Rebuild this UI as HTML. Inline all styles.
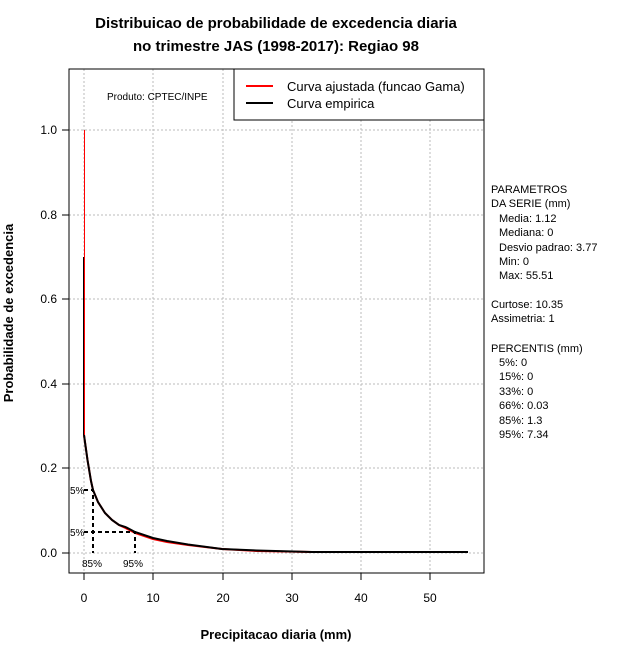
<!DOCTYPE html><html><head><style>body{margin:0;background:#fff}svg text{font-family:"Liberation Sans",sans-serif}</style></head><body>
<svg width="640" height="660" xmlns="http://www.w3.org/2000/svg">
<text x="276" y="28" font-size="15" font-weight="bold" text-anchor="middle">Distribuicao de probabilidade de excedencia diaria</text>
<text x="276" y="51" font-size="15" font-weight="bold" text-anchor="middle">no trimestre JAS (1998-2017): Regiao 98</text>
<g stroke="#bbb" stroke-dasharray="2,2" stroke-width="1">
<line x1="84" y1="69" x2="84" y2="573"/><line x1="153" y1="69" x2="153" y2="573"/><line x1="223" y1="69" x2="223" y2="573"/><line x1="292" y1="69" x2="292" y2="573"/><line x1="361" y1="120" x2="361" y2="573"/><line x1="430" y1="120" x2="430" y2="573"/>
<line x1="69" y1="130" x2="484" y2="130"/><line x1="69" y1="215" x2="484" y2="215"/><line x1="69" y1="299" x2="484" y2="299"/><line x1="69" y1="384" x2="484" y2="384"/><line x1="69" y1="468" x2="484" y2="468"/><line x1="69" y1="553" x2="484" y2="553"/>
</g>
<rect x="69" y="69" width="415" height="504" fill="none" stroke="#000"/>
<g stroke="#000"><line x1="69" y1="130" x2="69" y2="553"/>
<line x1="62" y1="130" x2="69" y2="130"/><line x1="62" y1="215" x2="69" y2="215"/><line x1="62" y1="299" x2="69" y2="299"/><line x1="62" y1="384" x2="69" y2="384"/><line x1="62" y1="468" x2="69" y2="468"/><line x1="62" y1="553" x2="69" y2="553"/>
<line x1="84" y1="573" x2="84" y2="580"/><line x1="153" y1="573" x2="153" y2="580"/><line x1="223" y1="573" x2="223" y2="580"/><line x1="292" y1="573" x2="292" y2="580"/><line x1="361" y1="573" x2="361" y2="580"/><line x1="430" y1="573" x2="430" y2="580"/></g>
<g font-size="12" text-anchor="end"><text x="57" y="134">1.0</text><text x="57" y="219">0.8</text><text x="57" y="303">0.6</text><text x="57" y="388">0.4</text><text x="57" y="472">0.2</text><text x="57" y="557">0.0</text></g>
<g font-size="12" text-anchor="middle"><text x="84" y="602">0</text><text x="153" y="602">10</text><text x="223" y="602">20</text><text x="292" y="602">30</text><text x="361" y="602">40</text><text x="430" y="602">50</text></g>
<text x="276" y="639" font-size="13" font-weight="bold" text-anchor="middle">Precipitacao diaria (mm)</text>
<text transform="translate(13,313) rotate(-90)" font-size="13" font-weight="bold" text-anchor="middle">Probabilidade de excedencia</text>
<text x="107" y="100" font-size="10">Produto: CPTEC/INPE</text>
<rect x="234" y="69" width="250" height="51" fill="#fff" stroke="#000"/>
<line x1="246" y1="86" x2="273" y2="86" stroke="red" stroke-width="2"/><line x1="246" y1="103" x2="273" y2="103" stroke="#000" stroke-width="2"/>
<text x="287" y="91" font-size="13">Curva ajustada (funcao Gama)</text><text x="287" y="108" font-size="13">Curva empirica</text>
<line x1="84.5" y1="130" x2="84.5" y2="435" stroke="red" stroke-width="1"/>
<line x1="83.5" y1="257" x2="83.5" y2="435" stroke="#000" stroke-width="1"/>
<polyline fill="none" stroke="red" stroke-width="2" points="84,435 87.5,460 91,481 93,490 98,502 105,513 112,520 119,525 125.5,528 135,533 153,539 167,542 188,545 222,549 257,551 312,552"/>
<polyline fill="none" stroke="#000" stroke-width="2" points="84,435 87.5,460 91,481 93,490 98,502 105,513 112,520 119,525 125.5,527 135,532 153,538 167,541 188,544.5 222,549 257,550.5 312,552 468,552"/>
<g stroke="#000" stroke-width="2" stroke-dasharray="4,3" fill="none"><polyline points="84,490 93,490 93,553"/><polyline points="84,532 135,532 135,553"/></g>
<g font-size="10"><text x="70" y="494">5%</text><text x="70" y="536">5%</text><text x="82" y="567">85%</text><text x="123" y="567">95%</text></g>
<g font-size="11"><text x="491" y="193">PARAMETROS</text><text x="491" y="207">DA SERIE (mm)</text><text x="499" y="222">Media: 1.12</text><text x="499" y="236">Mediana: 0</text><text x="499" y="251">Desvio padrao: 3.77</text><text x="499" y="265">Min: 0</text><text x="499" y="279">Max: 55.51</text>
<text x="491" y="308">Curtose: 10.35</text><text x="491" y="322">Assimetria: 1</text>
<text x="491" y="352">PERCENTIS (mm)</text><text x="499" y="366">5%: 0</text><text x="499" y="380">15%: 0</text><text x="499" y="395">33%: 0</text><text x="499" y="409">66%: 0.03</text><text x="499" y="424">85%: 1.3</text><text x="499" y="438">95%: 7.34</text></g>
</svg></body></html>
